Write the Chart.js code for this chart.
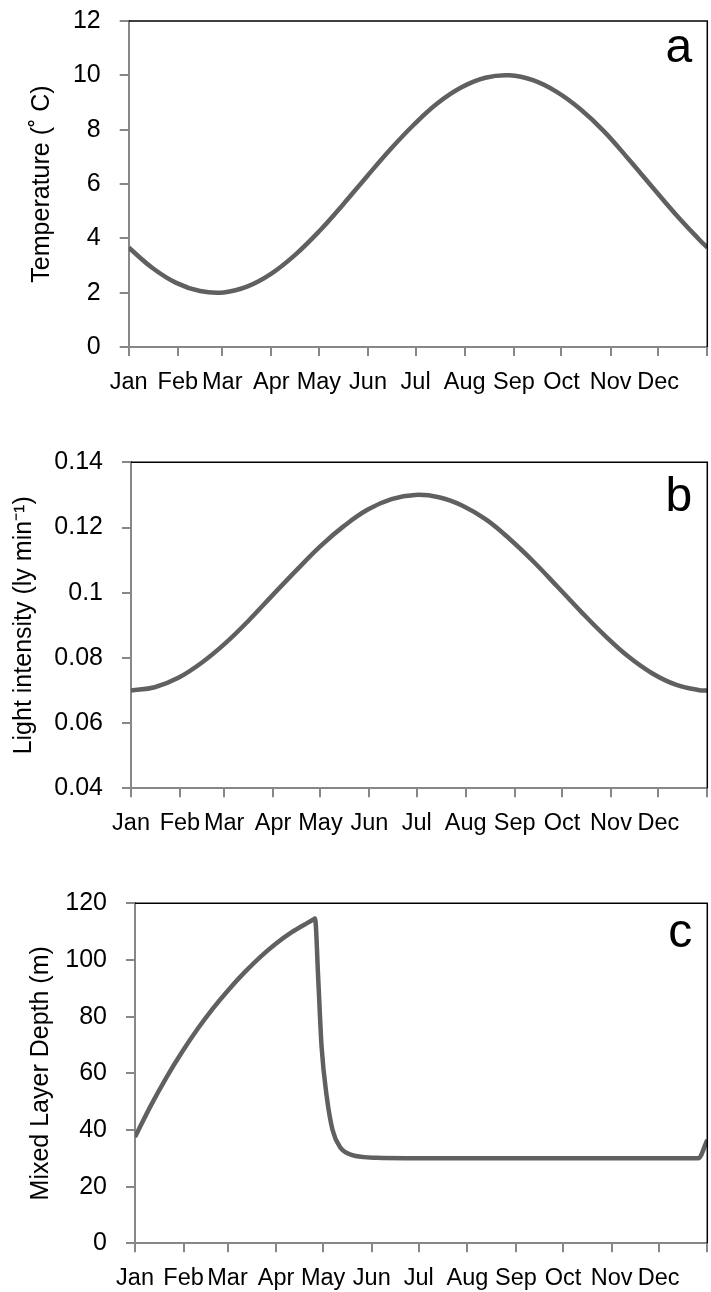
<!DOCTYPE html>
<html>
<head>
<meta charset="utf-8">
<script src="https://cdn.jsdelivr.net/npm/chart.js@4.4.0/dist/chart.umd.min.js"></script>
<style>
  html, body { margin: 0; padding: 0; background: #fff; }
  .panel { position: absolute; left: 0; width: 711px; }
</style>
</head>
<body>
<div class="panel" style="top:0;height:400px"><canvas id="chartTemp"></canvas></div>
<div class="panel" style="top:420px;height:440px"><canvas id="chartLight"></canvas></div>
<div class="panel" style="top:860px;height:432px"><canvas id="chartMld"></canvas></div>
<script>
// month axis (day of year)
const monthNames = ['Jan','Feb','Mar','Apr','May','Jun','Jul','Aug','Sep','Oct','Nov','Dec'];
const monthStarts = [0,31,59,90,120,151,181,212,243,273,304,334,365];

// a - temperature
const tempDays = [0,15,30,45,60,75,90,105,120,135,150,165,180,195,210,225,240,255,270,285,300,315,330,345,360,365];
const tempValues = [3.66,2.91,2.36,2.06,2.01,2.23,2.70,3.39,4.25,5.23,6.26,7.27,8.19,8.98,9.56,9.91,10.00,9.82,9.39,8.75,7.93,6.94,5.91,4.89,3.95,3.66];
const tempTicks = [0,2,4,6,8,10,12];

// b - light intensity
const lightDays = [0,15,30,45,60,75,90,105,120,135,150,165,180,195,210,225,240,255,270,285,300,315,330,345,360,365];
const lightValues = [0.0700,0.0710,0.0739,0.0786,0.0846,0.0917,0.0994,0.1070,0.1143,0.1205,0.1255,0.1287,0.1300,0.1293,0.1267,0.1224,0.1164,0.1095,0.1019,0.0942,0.0869,0.0804,0.0753,0.0718,0.0701,0.0700];
const lightTicks = [0.04,0.06,0.08,0.1,0.12,0.14];

// c - mixed layer depth
const mldDays = [0,10,20,30,40,50,60,70,80,90,100,110,113.5,114.8,116.9,119,122.3,126,130.6,138,154,200,250,300,359.2,365];
const mldValues = [37.5,48.5,58.5,67.5,75.7,83.1,89.7,95.7,101.1,105.8,109.8,113.1,114.2,114.6,92.9,69.4,51.7,40,34.1,31.2,30.2,30,30,30,30,36.5];
const mldTicks = [0,20,40,60,80,100,120];

Chart.defaults.font.family = '"Liberation Sans", Arial, sans-serif';
Chart.defaults.color = '#000';

const axisGray = '#878787';

const framePlugin = {
  id: 'frame',
  afterDatasetsDraw(chart, args, opts) {
    const {ctx, chartArea: a} = chart;
    ctx.save();
    ctx.strokeStyle = '#000';
    ctx.lineWidth = 1.5;
    ctx.beginPath();
    ctx.moveTo(a.left, a.top);
    ctx.lineTo(a.right, a.top);
    ctx.lineTo(a.right, a.bottom);
    ctx.stroke();
    ctx.font = '48px "Liberation Sans", Arial, sans-serif';
    ctx.fillStyle = '#000';
    ctx.textAlign = 'right';
    ctx.textBaseline = 'alphabetic';
    ctx.fillText(opts.letter, a.right - 15, a.top + opts.letterDy);
    ctx.restore();
  }
};

function makeChart(id, days, values, yTicks, yTitle, letter, box, curve) {
  const points = days.map((d, i) => ({x: d, y: values[i]}));
  return new Chart(document.getElementById(id), {
    type: 'line',
    data: {
      datasets: [{
        data: points,
        borderColor: '#606060',
        borderWidth: 4.5,
        pointRadius: 0,
        fill: false,
        tension: 0.4,
        cubicInterpolationMode: curve
      }]
    },
    options: {
      responsive: true,
      maintainAspectRatio: false,
      animation: false,
      layout: { padding: { left: 0, right: 3.7, top: box.top, bottom: 0 } },
      scales: {
        x: {
          type: 'linear',
          min: 0,
          max: 365,
          afterBuildTicks: s => { s.ticks = monthStarts.map(v => ({value: v})); },
          afterFit: s => { s.height = box.xHeight; s.paddingLeft = 0; s.paddingRight = 0; },
          ticks: {
            autoSkip: false, maxRotation: 0, minRotation: 0, padding: 12,
            font: { size: 23.5 },
            callback: (v, i) => monthNames[i] || ''
          },
          grid: { drawOnChartArea: false, tickLength: 9, color: axisGray, lineWidth: 2 },
          border: { color: axisGray, width: 2 }
        },
        y: {
          min: yTicks[0],
          max: yTicks[yTicks.length - 1],
          afterBuildTicks: s => { s.ticks = yTicks.map(v => ({value: v})); },
          afterFit: s => { s.width = box.left; s.paddingTop = 0; s.paddingBottom = 0; },
          ticks: { padding: 19, font: { size: 25 }, callback: v => String(v) },
          title: {
            display: true, text: yTitle, color: '#000',
            font: { size: 25 },
            padding: { top: box.titlePad, bottom: 0 }
          },
          grid: { drawOnChartArea: false, tickLength: 9, color: axisGray, lineWidth: 2 },
          border: { color: axisGray, width: 2 }
        }
      },
      plugins: {
        legend: { display: false },
        tooltip: { enabled: false },
        frame: { letter: letter, letterDy: box.letterDy }
      }
    },
    plugins: [framePlugin]
  });
}

makeChart('chartTemp', tempDays, tempValues, tempTicks, 'Temperature (˚ C)', 'a',
  { top: 21, xHeight: 53, left: 128.7, titlePad: 27, letterDy: 41 }, 'default');
makeChart('chartLight', lightDays, lightValues, lightTicks, 'Light intensity (ly min⁻¹)', 'b',
  { top: 42.3, xHeight: 71.7, left: 131, titlePad: 9, letterDy: 48.5 }, 'default');
makeChart('chartMld', mldDays, mldValues, mldTicks, 'Mixed Layer Depth (m)', 'c',
  { top: 43.3, xHeight: 48.7, left: 135, titlePad: 26, letterDy: 43.7 }, 'monotone');
</script>
</body>
</html>
